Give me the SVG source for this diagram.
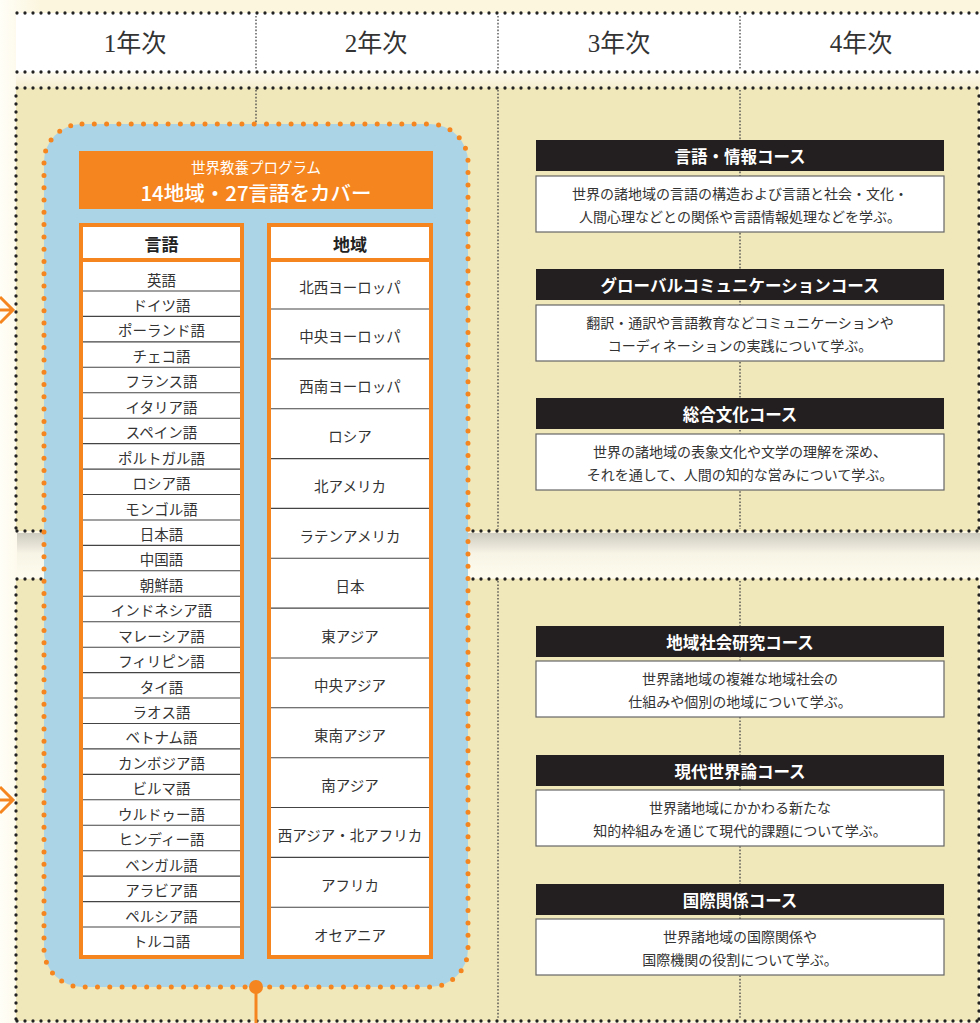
<svg xmlns="http://www.w3.org/2000/svg" width="980" height="1023" viewBox="0 0 980 1023">
<defs>
<linearGradient id="bgL" x1="0" y1="0" x2="1" y2="0">
<stop offset="0" stop-color="#fffef7"/>
<stop offset="1" stop-color="#fcf6df"/>
</linearGradient>
<linearGradient id="gapTop" x1="0" y1="0" x2="0" y2="1">
<stop offset="0" stop-color="#fdfaef"/>
<stop offset="1" stop-color="#f6eecf"/>
</linearGradient>
<linearGradient id="shadow" x1="0" y1="0" x2="0" y2="1">
<stop offset="0" stop-color="#cdcabf"/>
<stop offset="0.45" stop-color="#f7f4e6"/>
<stop offset="1" stop-color="#fefcee"/>
</linearGradient>
<style>
.dot{fill:none;stroke:#222;stroke-width:3.3;stroke-dasharray:0 8;stroke-linecap:round}
.vd{fill:none;stroke:#444;stroke-width:1.3;stroke-dasharray:1.6 1.8}
.year{font-family:"Liberation Serif","Noto Sans CJK JP",serif;font-size:25px;fill:#333;text-anchor:middle;dominant-baseline:central}
.cell{font-family:"Noto Sans CJK JP",sans-serif;font-size:14.5px;fill:#333;text-anchor:middle;dominant-baseline:central}
.th{font-family:"Noto Sans CJK JP",sans-serif;font-size:17px;font-weight:700;fill:#222;text-anchor:middle;dominant-baseline:central}
.rl{stroke:#444;stroke-width:1.1}
.ch{fill:#231f20}
.cht{font-family:"Noto Sans CJK JP",sans-serif;font-size:16.5px;font-weight:700;fill:#fff;text-anchor:middle;dominant-baseline:central}
.cd{fill:#fff;stroke:#666;stroke-width:1.2}
.cdt{font-family:"Noto Sans CJK JP",sans-serif;font-size:14px;fill:#333;text-anchor:middle;dominant-baseline:central}
.org{fill:none;stroke:#f5861f;stroke-width:3}
</style>
</defs>

<!-- background -->
<rect x="0" y="0" width="980" height="1023" fill="#fcf6df"/>
<rect x="0" y="0" width="40" height="1023" fill="url(#bgL)"/>
<rect x="16" y="72" width="964" height="16" fill="url(#gapTop)"/>

<!-- year header -->
<g id="year-header">
<rect x="16" y="13" width="964" height="59" fill="#fff"/>
<line class="dot" x1="17" y1="13" x2="980" y2="13"/>
<line class="dot" x1="17" y1="72" x2="980" y2="72"/>
<line class="vd" x1="256" y1="16" x2="256" y2="69"/>
<line class="vd" x1="498" y1="16" x2="498" y2="69"/>
<line class="vd" x1="740" y1="16" x2="740" y2="69"/>
<text class="year" x="135" y="43">1年次</text>
<text class="year" x="376" y="43">2年次</text>
<text class="year" x="619" y="43">3年次</text>
<text class="year" x="861" y="43">4年次</text>
</g>

<!-- panels -->
<g id="panel-upper">
<rect x="16" y="88" width="963" height="443" fill="#f0e7bb"/>
<line class="vd" x1="256" y1="90" x2="256" y2="529"/>
<line class="vd" x1="498" y1="90" x2="498" y2="529"/>
<line class="vd" x1="740" y1="90" x2="740" y2="529"/>
<line class="dot" x1="17" y1="88" x2="979" y2="88"/>
<line class="dot" x1="16" y1="96" x2="16" y2="531"/>
<line class="dot" x1="979" y1="96" x2="979" y2="531"/>
<line class="dot" x1="17" y1="531" x2="979" y2="531"/>
</g>
<rect x="17" y="533" width="963" height="45" fill="url(#shadow)"/>
<g id="panel-lower">
<rect x="16" y="579" width="963" height="442" fill="#f0e7bb"/>
<line class="vd" x1="256" y1="581" x2="256" y2="1019"/>
<line class="vd" x1="498" y1="581" x2="498" y2="1019"/>
<line class="vd" x1="740" y1="581" x2="740" y2="1019"/>
<line class="dot" x1="17" y1="579" x2="979" y2="579"/>
<line class="dot" x1="16" y1="587" x2="16" y2="1021"/>
<line class="dot" x1="979" y1="587" x2="979" y2="1021"/>
<line class="dot" x1="17" y1="1021" x2="979" y2="1021"/>
</g>

<!-- connectors -->
<g id="connectors">
<line x1="256" y1="987" x2="256" y2="1023" stroke="#f5861f" stroke-width="3"/>
<path class="org" d="M0 310 H13 M0 297 L13 310 L0 323"/>
<path class="org" d="M0 800 H13 M0 787 L13 800 L0 813"/>
</g>

<!-- program box -->
<g id="program">
<rect x="44" y="124" width="424" height="863" rx="38" fill="#abd4e6" stroke="#f5861f" stroke-width="5" stroke-dasharray="0 12.3" stroke-linecap="round"/>
<circle cx="256" cy="987" r="7" fill="#f5861f"/>
<rect x="79" y="151" width="354" height="58" fill="#f5861f"/>
<text x="256" y="166" font-family="Noto Sans CJK JP, sans-serif" font-size="14.5" fill="#fff" text-anchor="middle" dominant-baseline="central">世界教養プログラム</text>
<text x="256" y="192" font-family="Noto Sans CJK JP, sans-serif" font-size="20.5" font-weight="500" fill="#fff" text-anchor="middle" dominant-baseline="central">14地域・27言語をカバー</text>
</g>

<!-- language table -->
<g id="languages">
<rect x="79" y="223" width="165" height="736" fill="#f5861f"/>
<rect x="83" y="227" width="157" height="31" fill="#fff"/>
<rect x="83" y="262" width="157" height="693" fill="#fff"/>
<text class="th" x="161.5" y="243">言語</text>
<g class="rl">
<line x1="83" y1="291" x2="240" y2="291"/><line x1="83" y1="316.4" x2="240" y2="316.4"/><line x1="83" y1="341.9" x2="240" y2="341.9"/><line x1="83" y1="367.3" x2="240" y2="367.3"/><line x1="83" y1="392.8" x2="240" y2="392.8"/><line x1="83" y1="418.2" x2="240" y2="418.2"/><line x1="83" y1="443.6" x2="240" y2="443.6"/><line x1="83" y1="469.1" x2="240" y2="469.1"/><line x1="83" y1="494.5" x2="240" y2="494.5"/><line x1="83" y1="520" x2="240" y2="520"/><line x1="83" y1="545.4" x2="240" y2="545.4"/><line x1="83" y1="570.8" x2="240" y2="570.8"/><line x1="83" y1="596.3" x2="240" y2="596.3"/><line x1="83" y1="621.7" x2="240" y2="621.7"/><line x1="83" y1="647.2" x2="240" y2="647.2"/><line x1="83" y1="672.6" x2="240" y2="672.6"/><line x1="83" y1="698" x2="240" y2="698"/><line x1="83" y1="723.5" x2="240" y2="723.5"/><line x1="83" y1="748.9" x2="240" y2="748.9"/><line x1="83" y1="774.4" x2="240" y2="774.4"/><line x1="83" y1="799.8" x2="240" y2="799.8"/><line x1="83" y1="825.2" x2="240" y2="825.2"/><line x1="83" y1="850.7" x2="240" y2="850.7"/><line x1="83" y1="876.1" x2="240" y2="876.1"/><line x1="83" y1="901.6" x2="240" y2="901.6"/><line x1="83" y1="927" x2="240" y2="927"/>
</g>
<text class="cell" x="161.5" y="279">英語</text>
<text class="cell" x="161.5" y="304.4">ドイツ語</text>
<text class="cell" x="161.5" y="329.9">ポーランド語</text>
<text class="cell" x="161.5" y="355.3">チェコ語</text>
<text class="cell" x="161.5" y="380.8">フランス語</text>
<text class="cell" x="161.5" y="406.2">イタリア語</text>
<text class="cell" x="161.5" y="431.6">スペイン語</text>
<text class="cell" x="161.5" y="457.1">ポルトガル語</text>
<text class="cell" x="161.5" y="482.5">ロシア語</text>
<text class="cell" x="161.5" y="508">モンゴル語</text>
<text class="cell" x="161.5" y="533.4">日本語</text>
<text class="cell" x="161.5" y="558.8">中国語</text>
<text class="cell" x="161.5" y="584.3">朝鮮語</text>
<text class="cell" x="161.5" y="609.7">インドネシア語</text>
<text class="cell" x="161.5" y="635.2">マレーシア語</text>
<text class="cell" x="161.5" y="660.6">フィリピン語</text>
<text class="cell" x="161.5" y="686">タイ語</text>
<text class="cell" x="161.5" y="711.5">ラオス語</text>
<text class="cell" x="161.5" y="736.9">ベトナム語</text>
<text class="cell" x="161.5" y="762.4">カンボジア語</text>
<text class="cell" x="161.5" y="787.8">ビルマ語</text>
<text class="cell" x="161.5" y="813.2">ウルドゥー語</text>
<text class="cell" x="161.5" y="838.7">ヒンディー語</text>
<text class="cell" x="161.5" y="864.1">ベンガル語</text>
<text class="cell" x="161.5" y="889.6">アラビア語</text>
<text class="cell" x="161.5" y="915">ペルシア語</text>
<text class="cell" x="161.5" y="940.4">トルコ語</text>
</g>

<!-- region table -->
<g id="regions">
<rect x="267" y="223" width="166" height="736" fill="#f5861f"/>
<rect x="271" y="227" width="158" height="31" fill="#fff"/>
<rect x="271" y="262" width="158" height="693" fill="#fff"/>
<text class="th" x="350" y="243">地域</text>
<g class="rl">
<line x1="271" y1="309" x2="429" y2="309"/><line x1="271" y1="358.9" x2="429" y2="358.9"/><line x1="271" y1="408.7" x2="429" y2="408.7"/><line x1="271" y1="458.6" x2="429" y2="458.6"/><line x1="271" y1="508.4" x2="429" y2="508.4"/><line x1="271" y1="558.3" x2="429" y2="558.3"/><line x1="271" y1="608.1" x2="429" y2="608.1"/><line x1="271" y1="658" x2="429" y2="658"/><line x1="271" y1="707.8" x2="429" y2="707.8"/><line x1="271" y1="757.7" x2="429" y2="757.7"/><line x1="271" y1="807.5" x2="429" y2="807.5"/><line x1="271" y1="857.4" x2="429" y2="857.4"/><line x1="271" y1="907.2" x2="429" y2="907.2"/>
</g>
<text class="cell" x="350" y="286">北西ヨーロッパ</text>
<text class="cell" x="350" y="335.9">中央ヨーロッパ</text>
<text class="cell" x="350" y="385.7">西南ヨーロッパ</text>
<text class="cell" x="350" y="435.6">ロシア</text>
<text class="cell" x="350" y="485.4">北アメリカ</text>
<text class="cell" x="350" y="535.3">ラテンアメリカ</text>
<text class="cell" x="350" y="585.1">日本</text>
<text class="cell" x="350" y="635">東アジア</text>
<text class="cell" x="350" y="684.8">中央アジア</text>
<text class="cell" x="350" y="734.7">東南アジア</text>
<text class="cell" x="350" y="784.5">南アジア</text>
<text class="cell" x="350" y="834.4">西アジア・北アフリカ</text>
<text class="cell" x="350" y="884.2">アフリカ</text>
<text class="cell" x="350" y="934.1">オセアニア</text>
</g>

<!-- courses -->
<g id="course-gengo">
<rect class="ch" x="536" y="140" width="408" height="31"/>
<text class="cht" x="740" y="155.5">言語・情報コース</text>
<rect class="cd" x="536" y="176" width="408" height="56"/>
<text class="cdt" x="740" y="193">世界の諸地域の言語の構造および言語と社会・文化・</text>
<text class="cdt" x="740" y="216">人間心理などとの関係や言語情報処理などを学ぶ。</text>
</g>
<g id="course-global">
<rect class="ch" x="536" y="269" width="408" height="31"/>
<text class="cht" x="740" y="284.5">グローバルコミュニケーションコース</text>
<rect class="cd" x="536" y="305" width="408" height="56"/>
<text class="cdt" x="740" y="322">翻訳・通訳や言語教育などコミュニケーションや</text>
<text class="cdt" x="740" y="345">コーディネーションの実践について学ぶ。</text>
</g>
<g id="course-bunka">
<rect class="ch" x="536" y="398" width="408" height="31"/>
<text class="cht" x="740" y="413.5">総合文化コース</text>
<rect class="cd" x="536" y="434" width="408" height="56"/>
<text class="cdt" x="740" y="451">世界の諸地域の表象文化や文学の理解を深め、</text>
<text class="cdt" x="740" y="474">それを通して、人間の知的な営みについて学ぶ。</text>
</g>
<g id="course-chiiki">
<rect class="ch" x="536" y="626" width="408" height="31"/>
<text class="cht" x="740" y="641.5">地域社会研究コース</text>
<rect class="cd" x="536" y="661" width="408" height="56"/>
<text class="cdt" x="740" y="678">世界諸地域の複雑な地域社会の</text>
<text class="cdt" x="740" y="701">仕組みや個別の地域について学ぶ。</text>
</g>
<g id="course-gendai">
<rect class="ch" x="536" y="755" width="408" height="31"/>
<text class="cht" x="740" y="770.5">現代世界論コース</text>
<rect class="cd" x="536" y="790" width="408" height="56"/>
<text class="cdt" x="740" y="807">世界諸地域にかかわる新たな</text>
<text class="cdt" x="740" y="830">知的枠組みを通じて現代的課題について学ぶ。</text>
</g>
<g id="course-kokusai">
<rect class="ch" x="536" y="884" width="408" height="31"/>
<text class="cht" x="740" y="899.5">国際関係コース</text>
<rect class="cd" x="536" y="919" width="408" height="56"/>
<text class="cdt" x="740" y="936">世界諸地域の国際関係や</text>
<text class="cdt" x="740" y="959">国際機関の役割について学ぶ。</text>
</g>
</svg>
